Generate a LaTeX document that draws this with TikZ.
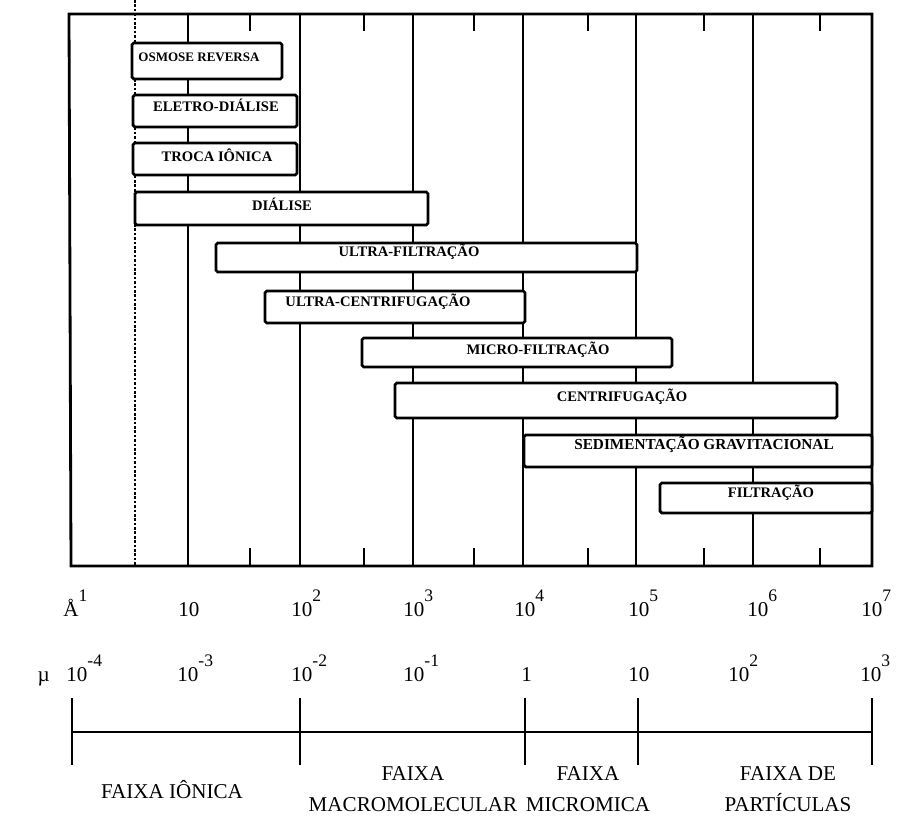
\documentclass[tikz,border=0pt]{standalone}
\usepackage{fontspec}
\setmainfont{Liberation Serif}
% raised exponent of the scale labels
\newcommand{\ex}[1]{\raisebox{0.72em}{\fontsize{10}{10}\selectfont #1}}

\begin{document}
\begin{tikzpicture}[x=0.02cm, y=-0.02cm,
  bar/.style={draw, line width=1.6pt, fill=white, rounded corners=1pt},
  lbl/.style={font=\fontsize{8.3}{9}\selectfont\bfseries, inner sep=0pt},
  num/.style={font=\fontsize{12}{14}\selectfont, inner sep=0pt, anchor=base west},
  faixa/.style={font=\fontsize{12}{18}\selectfont, align=center, inner sep=0pt}]
\useasboundingbox (0,0) rectangle (904,817);
% Frame of the chart
\draw[line width=1.6pt] (69,14) -- (872,14) -- (872,566) -- (71,566) -- cycle;
% Decade lines and half-decade ticks
\foreach \x in {188,300,413,523,636,753}
  \draw[line width=1.4pt] (\x,14) -- (\x,566);
\foreach \x in {250,364,474,588,704,820} {
  \draw[line width=1.4pt] (\x,14) -- (\x,31);
  \draw[line width=1.4pt] (\x,566) -- (\x,548);
}
\draw[line width=1.4pt, dash pattern=on 1.5pt off 1pt] (135,0) -- (135,566);

% Separation processes
\draw[bar] (132,43) rectangle (282,79);
\node[lbl, font=\fontsize{7.4}{8}\selectfont\bfseries] (osmose) at (199,57) {OSMOSE REVERSA};
\draw[bar] (133,95) rectangle (297,127);
\node[lbl] (eletro) at (216,105) {ELETRO-DIÁLISE};
\draw[bar] (133,143) rectangle (297,175);
\node[lbl] (troca) at (217,155) {TROCA IÔNICA};
\draw[bar] (135,192) rectangle (428,225);
\node[lbl] (dialise) at (282,204) {DIÁLISE};
\draw[bar] (216,243) rectangle (637,272);
\node[lbl] (ultrafil) at (409,252) {ULTRA-FILTRAÇÃO};
\draw[bar] (265,291) rectangle (525,323);
\node[lbl] (ultracent) at (378,302) {ULTRA-CENTRIFUGAÇÃO};
\draw[bar] (362,338) rectangle (672,367);
\node[lbl] (microfil) at (538,350) {MICRO-FILTRAÇÃO};
\draw[bar] (395,383) rectangle (837,418);
\node[lbl] (centrif) at (622,397) {CENTRIFUGAÇÃO};
\draw[bar] (524,435) rectangle (872,467);
\node[lbl, font=\fontsize{8.7}{9}\selectfont\bfseries] (sedim) at (704,445) {SEDIMENTAÇÃO GRAVITACIONAL};
\draw[bar] (660,483) rectangle (872,513);
\node[lbl] (filtr) at (771,493) {FILTRAÇÃO};

% Scale in angstrom
\node[num] (a0) at (63,617) {Å\ex{1}};
\node[num] (a1) at (178,617) {10};
\node[num] (a2) at (291,617) {10\ex{2}};
\node[num] (a3) at (403,617) {10\ex{3}};
\node[num] (a4) at (514,617) {10\ex{4}};
\node[num] (a5) at (628,617) {10\ex{5}};
\node[num] (a6) at (747,617) {10\ex{6}};
\node[num] (a7) at (861,617) {10\ex{7}};

% Scale in micron
\node[num, anchor=base east] (mu) at (50,682) {µ};
\node[num] (m0) at (66,682) {10\ex{-4}};
\node[num] (m1) at (177,682) {10\ex{-3}};
\node[num] (m2) at (291,682) {10\ex{-2}};
\node[num] (m3) at (403,682) {10\ex{-1}};
\node[num] (m4) at (521,682) {1};
\node[num] (m5) at (628,682) {10};
\node[num] (m6) at (728,682) {10\ex{2}};
\node[num] (m7) at (860,682) {10\ex{3}};

% Size ranges
\draw[line width=1.3pt] (72,732) -- (872,732);
\foreach \x in {72,300,525,638,872}
  \draw[line width=1.3pt] (\x,698) -- (\x,765);
\node[faixa] (ionica) at (172,790) {FAIXA IÔNICA};
\node[faixa] (macro) at (413,789) {FAIXA\\MACROMOLECULAR};
\node[faixa] (micro) at (588,789) {FAIXA\\MICROMICA};
\node[faixa] (part) at (788,789) {FAIXA DE\\PARTÍCULAS};
\end{tikzpicture}
\end{document}
